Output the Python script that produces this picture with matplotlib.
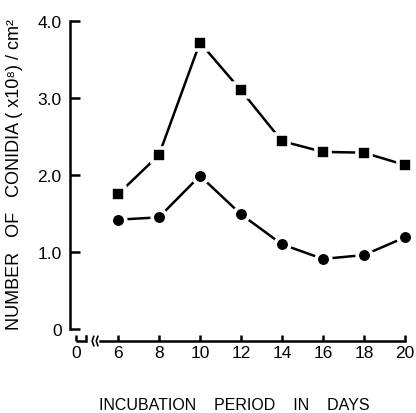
import numpy as np
import matplotlib
matplotlib.use("Agg")
import matplotlib.pyplot as plt

# ---------------------------------------------------------------------------
# Data
# ---------------------------------------------------------------------------
days = [6, 8, 10, 12, 14, 16, 18, 20]
conidia_square = [1.75, 2.26, 3.72, 3.10, 2.44, 2.30, 2.29, 2.13]
conidia_circle = [1.42, 1.45, 1.99, 1.49, 1.10, 0.91, 0.96, 1.19]

y_ticks = [0, 1.0, 2.0, 3.0, 4.0]
y_ticklabels = ["0", "1.0", "2.0", "3.0", "4.0"]
x_zero_pos = 3.95          # where the broken-axis "0" sits
x_ticklabels = ["0"] + [str(d) for d in days]

plt.rcParams["font.family"] = ["Liberation Sans", "DejaVu Sans"]

fig = plt.figure(figsize=(4.16, 4.14), dpi=100)
ax = fig.add_axes([70 / 416, 1 - 342 / 414, (409 - 70) / 416, (342 - 22) / 414])

lw = 1.8
for vals, mk, ms in [(conidia_square, "s", 9.5), (conidia_circle, "o", 10.5)]:
    ax.plot(days, vals, color="black", lw=lw, marker=mk, ms=ms,
            mfc="black", mec="white", mew=2.6, clip_on=False, zorder=3)

ax.set_xlim(3.66, 20.2)
ax.set_ylim(-0.156, 4.0)

# y axis
ax.spines["left"].set_bounds(0, 4.0)
ax.spines["left"].set_linewidth(lw)
ax.set_yticks(y_ticks)
ax.set_yticklabels(y_ticklabels)
ax.tick_params(axis="y", direction="in", length=7, width=lw, pad=6, labelsize=12.5)

# broken x axis
ax.spines["bottom"].set_bounds(5.12, 20.0)
ax.spines["bottom"].set_linewidth(lw)
ax.set_xticks([x_zero_pos] + days)
ax.set_xticklabels(x_ticklabels)
ax.tick_params(axis="x", direction="in", length=4.5, width=lw, pad=3, labelsize=12.5)
for s in ["top", "right"]:
    ax.spines[s].set_visible(False)

yb = -0.156
ax.plot([x_zero_pos, 4.45], [yb, yb], color="black", lw=lw, clip_on=False,
        solid_capstyle="butt")
ax.plot([4.45, 4.45], [yb, yb + 0.06], color="black", lw=lw, clip_on=False)
for bx in [4.78, 4.98]:
    ax.plot([bx + 0.04, bx - 0.04, bx + 0.04], [yb - 0.06, yb, yb + 0.06],
            color="black", lw=1.2, clip_on=False)

ax.set_xlabel("INCUBATION    PERIOD    IN    DAYS", fontsize=11.5)
ax.xaxis.label.set_va("center")
ax.xaxis.set_label_coords((234 - 70) / (409 - 70), -(406 - 342) / (342 - 22))

ax.set_ylabel("NUMBER   OF   CONIDIA ( x10\u2078) / cm\u00b2", fontsize=13)
ax.yaxis.label.set_va("center")
ax.yaxis.set_label_coords(-(70 - 15) / (409 - 70), (342 - 175) / (342 - 22))

fig.savefig("out.png", dpi=100)
